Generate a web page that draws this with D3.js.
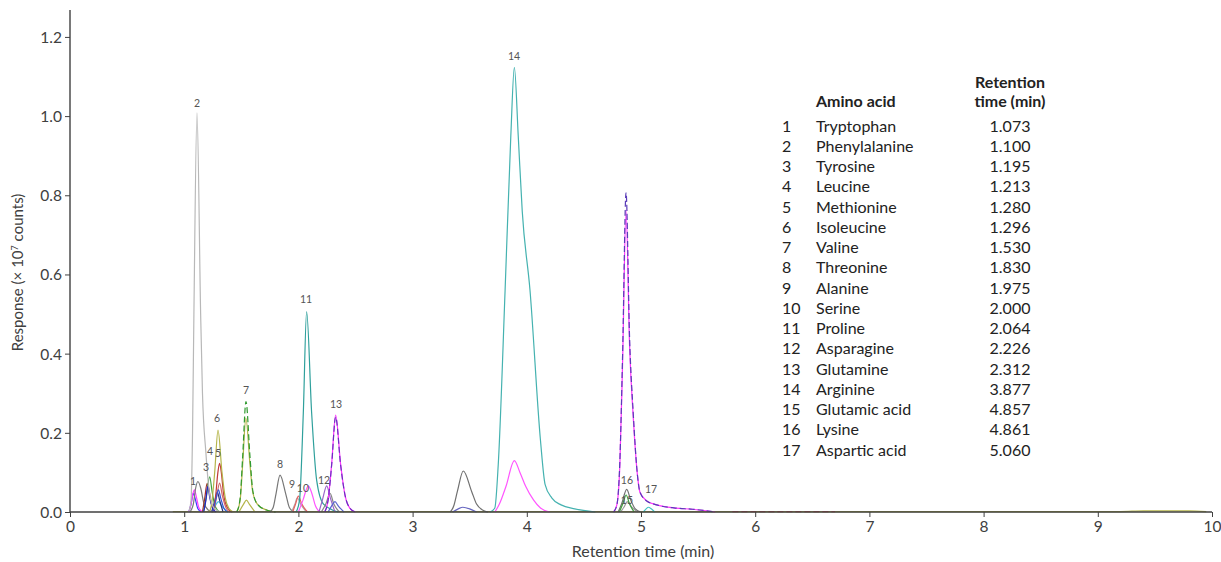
<!DOCTYPE html>
<html>
<head>
<meta charset="utf-8">
<script src="https://cdn.jsdelivr.net/npm/d3@7"></script>
<style>
  body { margin: 0; background: #fff; }
  text { font-family: Lato, "Open Sans", sans-serif; }
  .axis path, .axis line { stroke: #404040; }
  .axis text { fill: #404040; font-size: 15.5px; }
</style>
</head>
<body>
<div id="chart"></div>
<script>
// chromatogram traces, [retention time (min), response (x1e7 counts)]
let phe = [[1.04,0],[1.06,0.03],[1.073,0.2],[1.085,0.5],[1.112,1.008],[1.144,0.5],[1.16,0.3],[1.19,0.15],[1.22,0.05],[1.26,0.01],[1.32,0]];
let trpGrey = [[1.05,0],[1.08,0.02],[1.10,0.06],[1.12,0.077],[1.145,0.06],[1.17,0.025],[1.21,0.005],[1.25,0]];
let trpPink = [[1.04,0],[1.06,0.02],[1.075,0.045],[1.09,0.056],[1.105,0.04],[1.13,0.01],[1.16,0]];
let trpBlue = [[1.04,0],[1.06,0.02],[1.08,0.047],[1.095,0.035],[1.12,0.008],[1.15,0]];
let tyr = [[1.16,0],[1.18,0.035],[1.2,0.072],[1.215,0.06],[1.235,0.025],[1.27,0]];
let leu = [[1.17,0],[1.195,0.04],[1.223,0.089],[1.245,0.05],[1.27,0.015],[1.31,0]];
let met = [[1.25,0],[1.275,0.04],[1.295,0.1],[1.31,0.123],[1.325,0.1],[1.345,0.045],[1.38,0.01],[1.42,0]];
let metLow = [[1.26,0],[1.285,0.04],[1.31,0.073],[1.335,0.04],[1.37,0.008],[1.4,0]];
let ile = [[1.22,0],[1.24,0.02],[1.267,0.1],[1.296,0.207],[1.331,0.1],[1.36,0.035],[1.39,0.01],[1.43,0]];
let blueA = [[1.17,0],[1.19,0.03],[1.205,0.064],[1.225,0.035],[1.25,0.008],[1.28,0]];
let blueB = [[1.25,0],[1.28,0.035],[1.3,0.056],[1.32,0.035],[1.35,0.008],[1.38,0]];
let navy = [[1.24,0],[1.27,0.03],[1.29,0.05],[1.31,0.03],[1.34,0]];
let cyan = [[1.24,0],[1.27,0.015],[1.3,0.026],[1.33,0.015],[1.38,0]];
let valOlive = [[1.46,0],[1.49,0.03],[1.512,0.12],[1.54,0.237],[1.576,0.12],[1.6,0.05],[1.64,0.02],[1.72,0.005],[1.8,0]];
let valGreen = [[1.46,0],[1.49,0.035],[1.512,0.14],[1.541,0.279],[1.576,0.14],[1.6,0.055],[1.64,0.02],[1.72,0.005],[1.8,0]];
let valSmall = [[1.48,0],[1.52,0.02],[1.545,0.03],[1.57,0.02],[1.62,0]];
let thr = [[1.75,0],[1.78,0.012],[1.804,0.046],[1.839,0.093],[1.889,0.046],[1.92,0.012],[1.96,0]];
let ala = [[1.95,0],[1.975,0.02],[2.0,0.04],[2.03,0.02],[2.08,0]];
let alaGrey = [[1.94,0],[1.97,0.02],[1.99,0.036],[2.02,0.02],[2.07,0]];
let ser = [[2.0,0],[2.04,0.03],[2.087,0.066],[2.12,0.045],[2.15,0.015],[2.19,0]];
let pro = [[1.98,0],[2.01,0.03],[2.043,0.25],[2.072,0.506],[2.116,0.25],[2.16,0.08],[2.22,0.02],[2.35,0]];
let asn = [[2.18,0],[2.21,0.03],[2.248,0.066],[2.28,0.035],[2.32,0]];
let asnGrey = [[2.2,0],[2.24,0.02],[2.277,0.047],[2.31,0.02],[2.36,0]];
let asnBlue = [[2.26,0],[2.29,0.015],[2.32,0.026],[2.35,0.015],[2.4,0]];
let gln = [[2.23,0],[2.26,0.03],[2.291,0.12],[2.326,0.245],[2.37,0.12],[2.41,0.04],[2.45,0.01],[2.5,0]];
let glnDash = [[2.23,0],[2.26,0.03],[2.291,0.118],[2.326,0.24],[2.37,0.118],[2.41,0.04],[2.45,0.01],[2.5,0]];
let unkGrey = [[3.33,0],[3.36,0.015],[3.392,0.052],[3.444,0.1035],[3.517,0.052],[3.56,0.02],[3.62,0.004],[3.66,0]];
let unkBlue = [[3.35,0],[3.40,0.008],[3.44,0.012],[3.5,0.008],[3.56,0]];
let arg = [[3.68,0],[3.72,0.01],[3.75,0.12],[3.81,0.56],[3.86,0.95],[3.891,1.123],[3.925,0.95],[3.96,0.76],[4.028,0.56],[4.12,0.18],[4.16,0.07],[4.22,0.035],[4.3,0.018],[4.42,0.008],[4.6,0]];
let argPink = [[3.72,0],[3.76,0.02],[3.818,0.065],[3.891,0.13],[3.94,0.1],[3.99,0.065],[4.06,0.03],[4.12,0.01],[4.2,0]];
let lys = [[4.76,0],[4.79,0.02],[4.815,0.12],[4.839,0.38],[4.869,0.763],[4.9,0.42],[4.932,0.24],[4.97,0.09],[4.991,0.05],[5.05,0.028],[5.137,0.018],[5.3,0.01],[5.45,0.007],[5.65,0]];
let lysDash = [[4.76,0],[4.79,0.02],[4.815,0.13],[4.839,0.4],[4.869,0.807],[4.9,0.44],[4.932,0.25],[4.97,0.09],[4.991,0.05],[5.05,0.028],[5.137,0.018],[5.3,0.01],[5.45,0.007],[5.65,0]];
let lysGrey = [[4.8,0],[4.83,0.02],[4.875,0.057],[4.91,0.03],[4.95,0.008],[5.0,0]];
let gluGreen = [[4.81,0],[4.84,0.02],[4.87,0.043],[4.9,0.02],[4.94,0]];
let gluGrey = [[4.82,0],[4.85,0.012],[4.88,0.026],[4.92,0.012],[4.97,0]];
let asp = [[5.02,0],[5.045,0.008],[5.064,0.012],[5.09,0.008],[5.12,0]];
let baseOlive = [[0.9,0.001],[9.2,0.001],[9.4,0.003],[9.8,0.003],[9.95,0.001]];
let baseRed = [[5.8,0.001],[6.7,0.001]];

// drawing order: trace, colour, dashed
let traceStyles = [
  [baseOlive,"#b5b54a",false],[baseRed,"#c84848",true],
  [cyan,"#45c4e0",false],[navy,"#25307a",false],[trpBlue,"#3a3aff",false],[trpPink,"#ff40ff",false],
  [trpGrey,"#7a7a7a",false],[tyr,"#a0302c",false],[leu,"#3fa03f",false],[metLow,"#d06a6a",false],
  [met,"#c03a3a",false],[blueA,"#2424c8",false],[blueB,"#3655d6",false],[ile,"#b5b54a",false],
  [phe,"#b8b8b8",false],[valSmall,"#b5b54a",false],[valOlive,"#b5b54a",false],[valGreen,"#2f9a2f",true],
  [thr,"#777",false],[alaGrey,"#aaa",false],[ala,"#e66060",false],[ser,"#ff55ff",false],
  [pro,"#2fa09c",false],[asnGrey,"#888",false],[asn,"#9a66c8",false],[asnBlue,"#5a66d0",false],
  [gln,"#ff33ff",false],[glnDash,"#6a2fc0",true],
  [unkBlue,"#6666c0",false],[unkGrey,"#707070",false],
  [argPink,"#ff55ff",false],[arg,"#45b2b0",false],
  [gluGrey,"#999",false],[lysGrey,"#707070",false],[gluGreen,"#3fa03f",false],
  [lys,"#ff33ff",false],[lysDash,"#5a3cb8",true],[asp,"#45c4c4",false]
];

// peak number labels [text, time, response]
let peakLabels = [["1",1.077,0.078],["2",1.112,1.033],["3",1.191,0.114],["4",1.226,0.154],["5",1.296,0.149],
  ["6",1.287,0.237],["7",1.541,0.308],["8",1.839,0.121],["9",1.944,0.071],["10",2.04,0.061],["11",2.067,0.538],
  ["12",2.224,0.081],["13",2.329,0.273],["14",3.888,1.152],["15",4.877,0.03],["16",4.877,0.081],["17",5.088,0.058]];

let aminoAcids = ["Tryptophan","Phenylalanine","Tyrosine","Leucine","Methionine","Isoleucine","Valine","Threonine",
  "Alanine","Serine","Proline","Asparagine","Glutamine","Arginine","Glutamic acid","Lysine","Aspartic acid"];
let retentionTimes = ["1.073","1.100","1.195","1.213","1.280","1.296","1.530","1.830","1.975","2.000","2.064",
  "2.226","2.312","3.877","4.857","4.861","5.060"];
let xTicks = [0,1,2,3,4,5,6,7,8,9,10];
let yTicks = [0,0.2,0.4,0.6,0.8,1.0,1.2];

let width = 1221, height = 562;
let margin = {left: 70, right: 9, top: 10, bottom: 50};

let svg = d3.select("#chart").append("svg")
  .attr("width", width).attr("height", height);

let x = d3.scaleLinear().domain([0,10]).range([margin.left, width-margin.right]);
let y = d3.scaleLinear().domain([0,1.268]).range([height-margin.bottom, margin.top]);

let line = d3.line()
  .x(function(d){ return x(d[0]); })
  .y(function(d){ return y(d[1]); })
  .curve(d3.curveMonotoneX);

svg.append("g").selectAll("path")
  .data(traceStyles)
  .enter()
  .append("path")
  .attr("d", function(d){ return line(d[0]); })
  .attr("fill", "none")
  .attr("stroke", function(d){ return d[1]; })
  .attr("stroke-width", 1.2)
  .attr("stroke-dasharray", function(d){ return d[2] ? "6,3" : null; });

// axes
let xAxis = d3.axisBottom(x).tickValues(xTicks).tickSize(5).tickPadding(4).tickFormat(d3.format("d"));
let yAxis = d3.axisLeft(y).tickValues(yTicks).tickSize(5).tickPadding(3).tickFormat(d3.format(".1f"));

let gx = svg.append("g").attr("class","axis")
  .attr("transform","translate(0,"+(height-margin.bottom)+")")
  .call(xAxis);
gx.select(".domain").attr("d","M"+x(0)+",0H"+x(10)).attr("stroke-width",1.6);

let gy = svg.append("g").attr("class","axis")
  .attr("transform","translate("+margin.left+",0)")
  .call(yAxis);
gy.select(".domain").attr("d","M0,"+y(1.268)+"V"+y(0)).attr("stroke-width",1.4);
gy.selectAll("text").attr("dy","0.35em");

svg.append("text")
  .attr("x", (x(0)+x(10))/2 + 2).attr("y", 557)
  .attr("text-anchor","middle").attr("fill","#404040").style("font-size","16px")
  .text("Retention time (min)");

let yt = svg.append("text")
  .attr("transform","translate(23,"+(y(0.6)-2)+") rotate(-90)")
  .attr("text-anchor","middle").attr("fill","#404040").style("font-size","15px");
yt.append("tspan").text("Response (× 10");
yt.append("tspan").attr("dy","-5").style("font-size","9px").text("7");
yt.append("tspan").attr("dy","5").text(" counts)");

// peak numbers
svg.append("g").selectAll("text")
  .data(peakLabels)
  .enter()
  .append("text")
  .attr("x", function(d){ return x(d[1]); })
  .attr("y", function(d){ return y(d[2]); })
  .attr("dy","0.35em")
  .attr("text-anchor","middle")
  .attr("fill","#555")
  .style("font-size","10.5px")
  .text(function(d){ return d[0]; });

// retention time table
let row = d3.scalePoint().domain(d3.range(aminoAcids.length)).range([126,450]);
let table = svg.append("g").attr("fill","#222").style("font-size","16px");

table.append("text").attr("x",1010).attr("y",82).attr("dy","0.35em").attr("text-anchor","middle")
  .style("font-weight","bold").text("Retention");
table.append("text").attr("x",1010).attr("y",101).attr("dy","0.35em").attr("text-anchor","middle")
  .style("font-weight","bold").text("time (min)");
table.append("text").attr("x",816).attr("y",101).attr("dy","0.35em")
  .style("font-weight","bold").text("Amino acid");

let rows = table.selectAll("g.row").data(aminoAcids).enter().append("g").attr("class","row");
rows.append("text").attr("x",782).attr("y",function(d,i){ return row(i); }).attr("dy","0.35em")
  .text(function(d,i){ return i+1; });
rows.append("text").attr("x",816).attr("y",function(d,i){ return row(i); }).attr("dy","0.35em")
  .text(function(d){ return d; });
rows.append("text").attr("x",1010).attr("y",function(d,i){ return row(i); }).attr("dy","0.35em")
  .attr("text-anchor","middle")
  .text(function(d,i){ return retentionTimes[i]; });
</script>
</body>
</html>
